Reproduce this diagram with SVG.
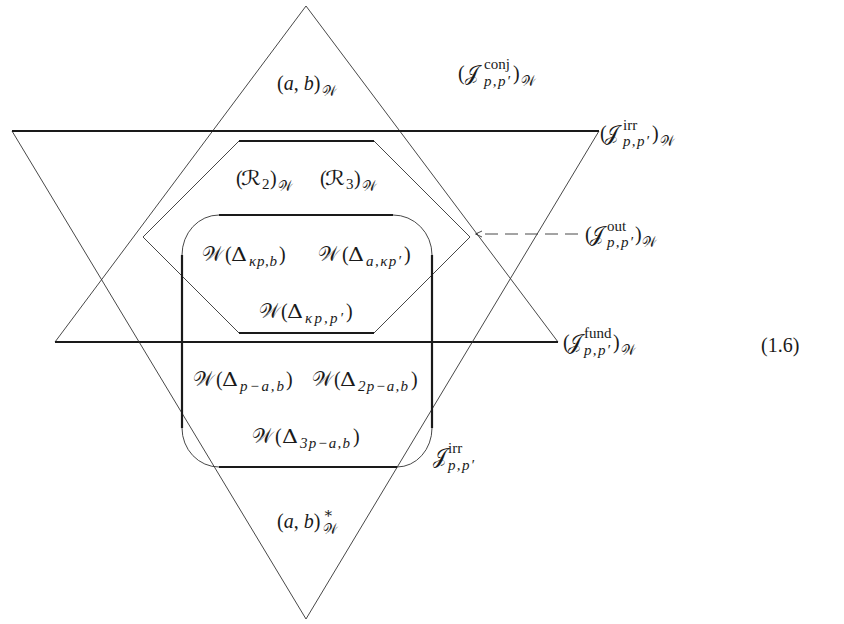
<svg xmlns="http://www.w3.org/2000/svg" width="844" height="624" viewBox="0 0 844 624">
<style>
.thin{fill:none;stroke:#333;stroke-width:0.9}
.thick{fill:none;stroke:#1a1a1a;stroke-width:2.2}
.t{font-family:"Liberation Serif","DejaVu Serif",serif;font-size:20px;fill:#1a1a1a}
.i{font-style:italic}
.s{font-size:15px}
.w{font-size:14px}
.c{font-family:"DejaVu Serif","DejaVu Sans","Noto Sans",serif;font-style:normal}
.d{font-family:"DejaVu Serif",serif;font-size:19px;font-style:normal}
</style>
<rect width="844" height="624" fill="#fff"/>

<g id="conj-triangle">
<path class="thin" d="M55,342 L306,6 L558,342"/>
<line class="thick" x1="55" y1="342" x2="558" y2="342"/>
</g>
<g id="irr-triangle">
<path class="thin" d="M12,131 L306,619 L599,131"/>
<line class="thick" x1="12" y1="131" x2="599" y2="131"/>
</g>
<g id="out-hexagon">
<path class="thin" d="M239,141 L143,237 L239,333 M374,141 L470,237 L374,333"/>
<line class="thick" x1="239" y1="141" x2="374" y2="141"/>
<line class="thick" x1="239" y1="333" x2="374" y2="333"/>
</g>
<g id="irr-module">
<path class="thin" d="M219,215 A37,40 0 0 0 182,255 M182,428 A37,39 0 0 0 219,467 M393,215 A39,40 0 0 1 432,255 M432,428 A35,39 0 0 1 397,467"/>
<line class="thick" x1="219" y1="215" x2="393" y2="215"/>
<line class="thick" x1="219" y1="467" x2="397" y2="467"/>
<line class="thick" x1="182" y1="255" x2="182" y2="428"/>
<line class="thick" x1="432" y1="255" x2="432" y2="428"/>
</g>

<g id="connectors">
<line class="thin" x1="578" y1="234" x2="476" y2="234" stroke-dasharray="13 7"/>
<path class="thin" d="M482,231 L475.5,234 L482,237"/>
</g>

<g id="label-ab">
<text class="t" x="277" y="90">(<tspan class="i">a</tspan>, <tspan class="i">b</tspan>)<tspan class="w c" x="322" y="96">𝒲</tspan></text>
</g>
<g id="label-conj">
<text class="t"><tspan x="458" y="80">(</tspan><tspan class="c" x="465" y="80">𝒥</tspan><tspan class="s" x="484" y="69">conj</tspan><tspan class="s i" x="484" y="86" textLength="26" lengthAdjust="spacing">p,p′</tspan><tspan x="513" y="80">)</tspan><tspan class="w c" x="521" y="86">𝒲</tspan></text>
</g>
<g id="label-irr-w">
<text class="t"><tspan x="600" y="140">(</tspan><tspan class="c" x="605" y="140">𝒥</tspan><tspan class="s" x="623" y="130">irr</tspan><tspan class="s i" x="623" y="146" textLength="26" lengthAdjust="spacing">p,p′</tspan><tspan x="652" y="140">)</tspan><tspan class="w c" x="660" y="146">𝒲</tspan></text>
</g>
<g id="label-r">
<text class="t"><tspan x="236" y="185">(</tspan><tspan class="c" x="241" y="185" textLength="20" lengthAdjust="spacingAndGlyphs">ℛ</tspan><tspan class="s" x="262" y="189">2</tspan><tspan x="270" y="185">)</tspan><tspan class="w c" x="278" y="191">𝒲</tspan></text>
<text class="t"><tspan x="320" y="185">(</tspan><tspan class="c" x="325" y="185" textLength="20" lengthAdjust="spacingAndGlyphs">ℛ</tspan><tspan class="s" x="346" y="189">3</tspan><tspan x="354" y="185">)</tspan><tspan class="w c" x="362" y="191">𝒲</tspan></text>
</g>
<g id="label-out">
<text class="t"><tspan x="585" y="241">(</tspan><tspan class="c" x="590" y="241">𝒥</tspan><tspan class="s" x="607" y="231">out</tspan><tspan class="s i" x="607" y="247" textLength="26" lengthAdjust="spacing">p,p′</tspan><tspan x="635" y="241">)</tspan><tspan class="w c" x="642" y="247">𝒲</tspan></text>
</g>
<g id="label-kp">
<text class="t"><tspan class="c" x="202" y="261">𝒲</tspan><tspan x="225" y="261">(</tspan><tspan class="d" x="231" y="261" textLength="16" lengthAdjust="spacingAndGlyphs">Δ</tspan><tspan class="s i" x="249" y="266" textLength="28" lengthAdjust="spacing">κp,b</tspan><tspan x="279" y="261">)</tspan></text>
<text class="t"><tspan class="c" x="318" y="261">𝒲</tspan><tspan x="342" y="261">(</tspan><tspan class="d" x="348" y="261" textLength="16" lengthAdjust="spacingAndGlyphs">Δ</tspan><tspan class="s i" x="366" y="266" textLength="35" lengthAdjust="spacing">a,κp′</tspan><tspan x="404" y="261">)</tspan></text>
<text class="t"><tspan class="c" x="259" y="318">𝒲</tspan><tspan x="281" y="318">(</tspan><tspan class="d" x="287" y="318" textLength="16" lengthAdjust="spacingAndGlyphs">Δ</tspan><tspan class="s i" x="305" y="323" textLength="38" lengthAdjust="spacing">κp,p′</tspan><tspan x="346" y="318">)</tspan></text>
</g>
<g id="label-fund">
<text class="t"><tspan x="563" y="349">(</tspan><tspan class="c" x="568" y="349">𝒥</tspan><tspan class="s" x="584" y="338">fund</tspan><tspan class="s i" x="584" y="355" textLength="26" lengthAdjust="spacing">p,p′</tspan><tspan x="613" y="349">)</tspan><tspan class="w c" x="621" y="355">𝒲</tspan></text>
</g>
<g id="label-eq">
<text class="t" x="761" y="352">(1.6)</text>
</g>
<g id="label-pa">
<text class="t"><tspan class="c" x="193" y="386">𝒲</tspan><tspan x="216" y="386">(</tspan><tspan class="d" x="222" y="386" textLength="16" lengthAdjust="spacingAndGlyphs">Δ</tspan><tspan class="s i" x="240" y="391" textLength="44" lengthAdjust="spacing">p−a,b</tspan><tspan x="286" y="386">)</tspan></text>
<text class="t"><tspan class="c" x="312" y="386">𝒲</tspan><tspan x="334" y="386">(</tspan><tspan class="d" x="340" y="386" textLength="16" lengthAdjust="spacingAndGlyphs">Δ</tspan><tspan class="s i" x="358" y="391" textLength="50" lengthAdjust="spacing">2p−a,b</tspan><tspan x="411" y="386">)</tspan></text>
<text class="t"><tspan class="c" x="252" y="443">𝒲</tspan><tspan x="275" y="443">(</tspan><tspan class="d" x="282" y="443" textLength="16" lengthAdjust="spacingAndGlyphs">Δ</tspan><tspan class="s i" x="300" y="448" textLength="50" lengthAdjust="spacing">3p−a,b</tspan><tspan x="353" y="443">)</tspan></text>
</g>
<g id="label-irr">
<text class="t"><tspan class="c" x="433" y="463">𝒥</tspan><tspan class="s" x="448" y="453">irr</tspan><tspan class="s i" x="448" y="470" textLength="26" lengthAdjust="spacing">p,p′</tspan></text>
</g>
<g id="label-ab-star">
<text class="t" x="277" y="528">(<tspan class="i">a</tspan>, <tspan class="i">b</tspan>)<tspan class="s" x="323" y="518">∗</tspan><tspan class="w c" x="323" y="534">𝒲</tspan></text>
</g>
</svg>
